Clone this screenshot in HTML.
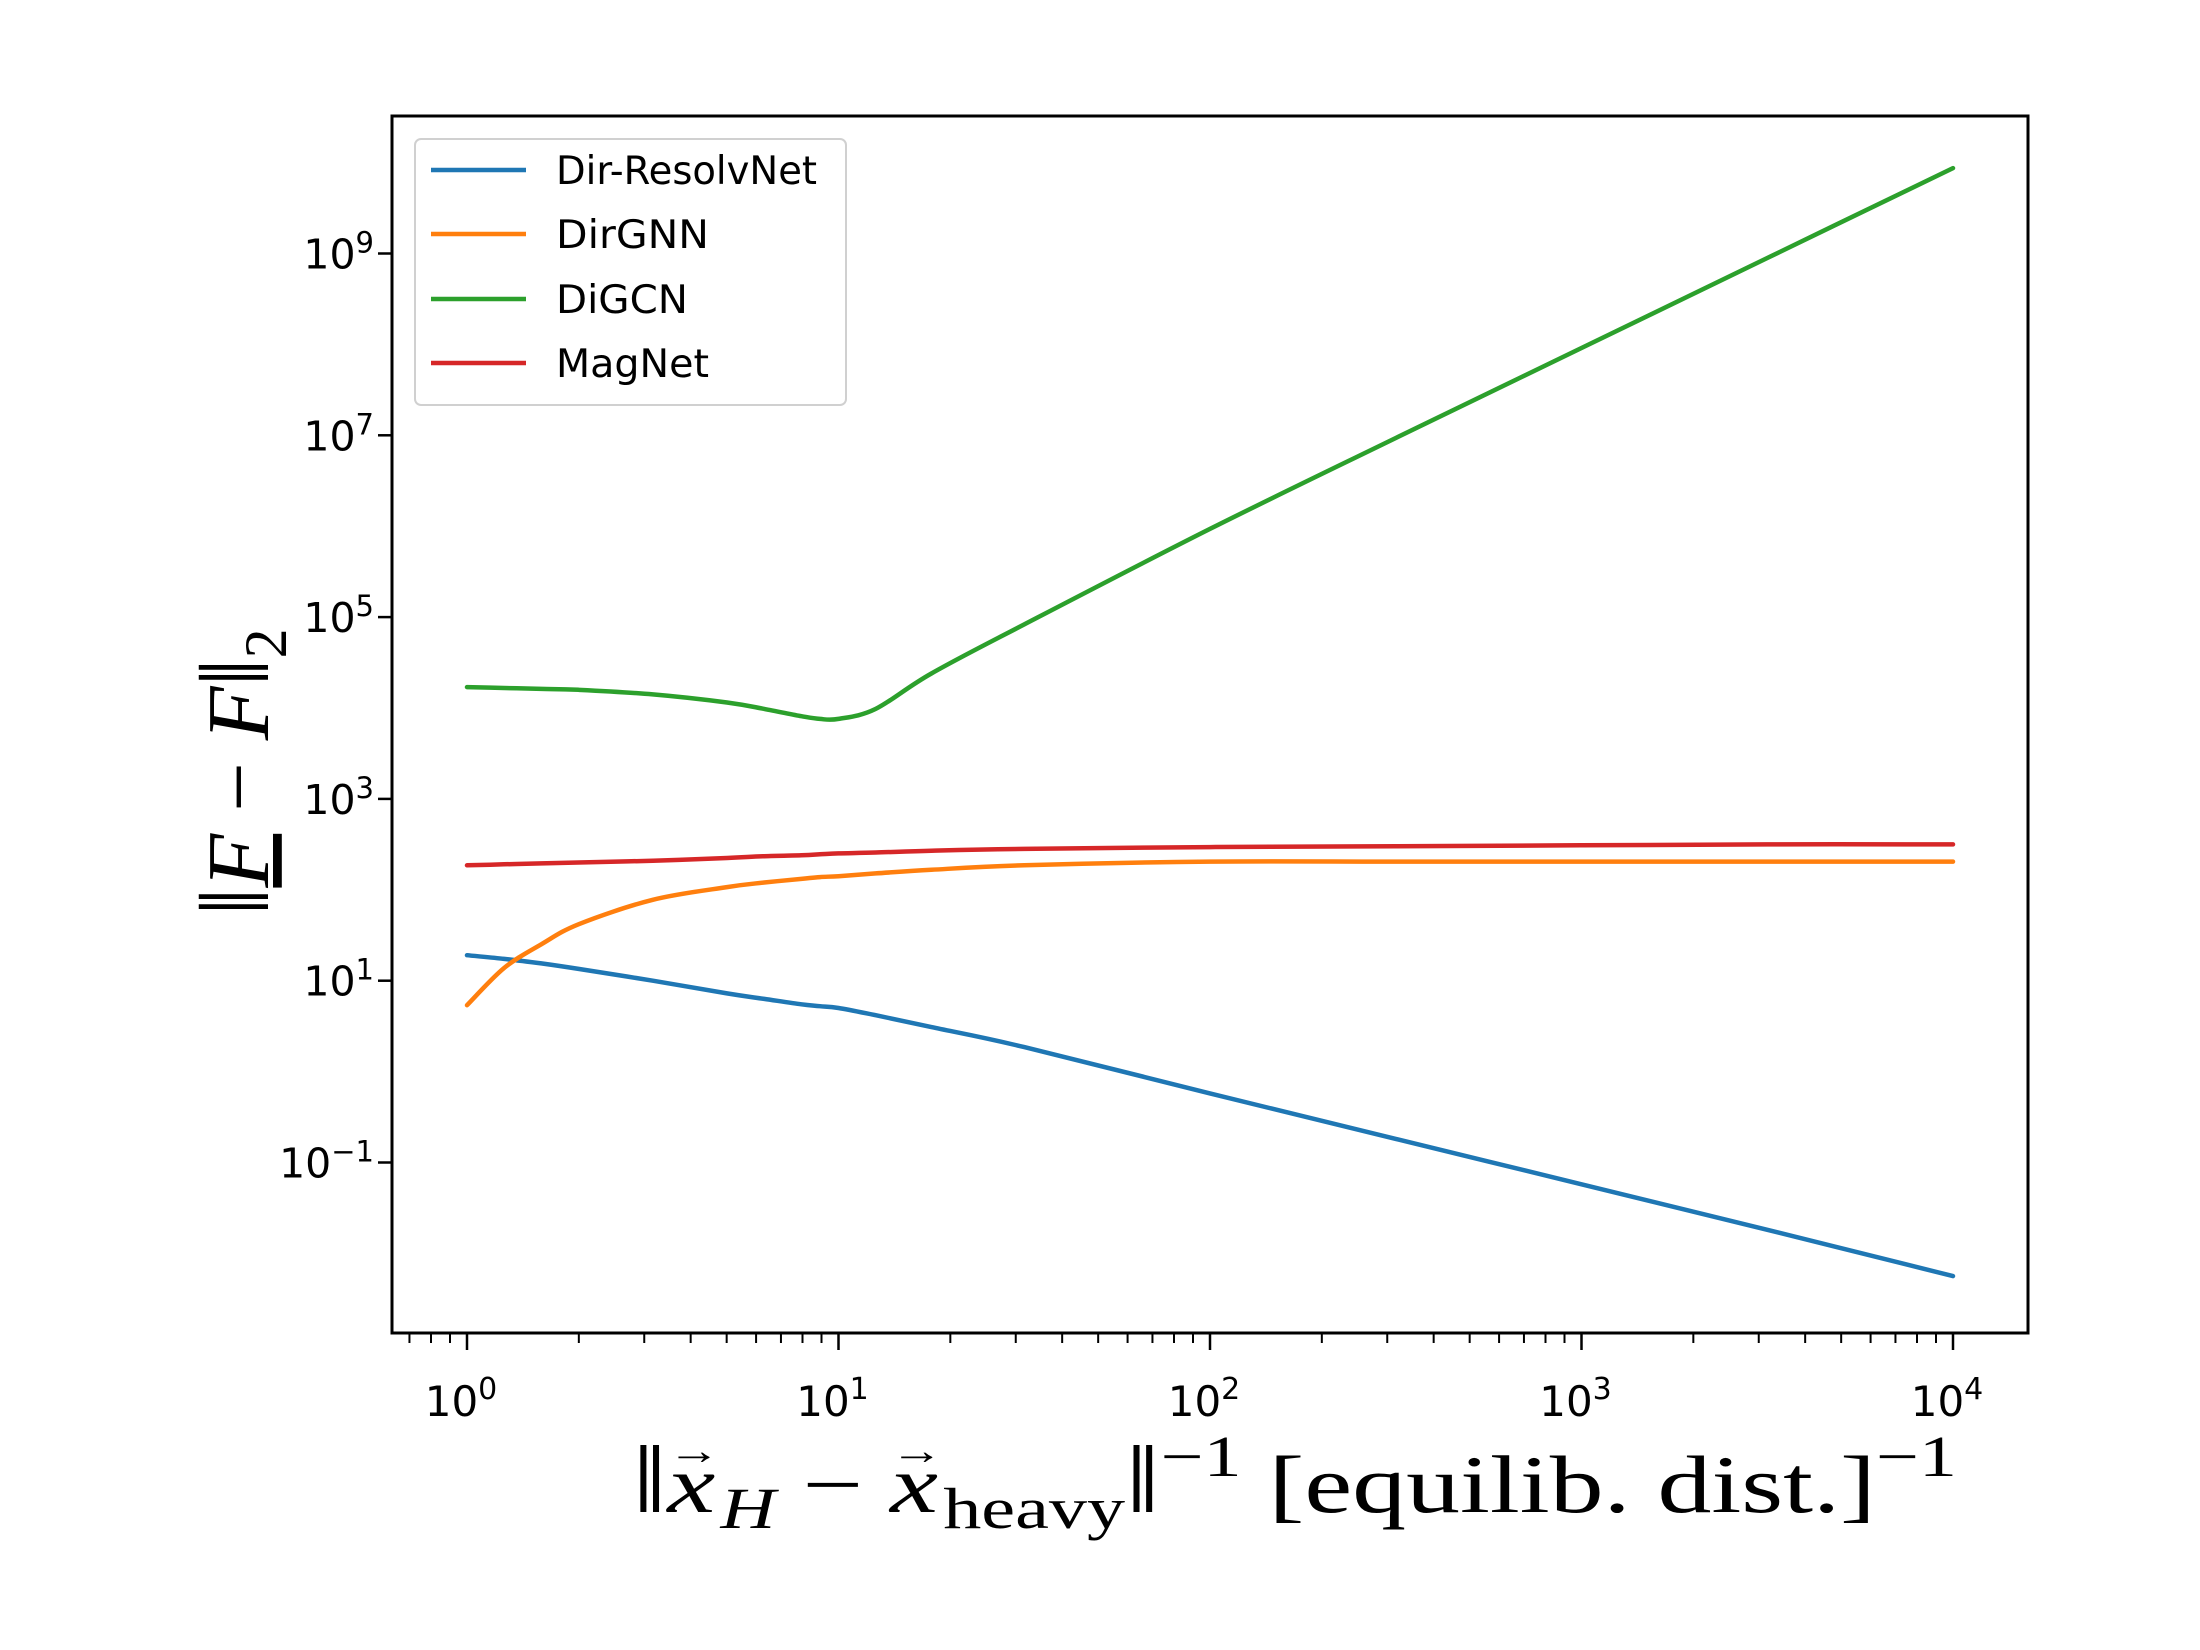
<!DOCTYPE html>
<html><head><meta charset="utf-8"><style>
html,body{margin:0;padding:0;background:#fff;}
svg{display:block;}
</style></head><body>
<svg id="chart" width="2200" height="1650" viewBox="0 0 2200 1650" xmlns="http://www.w3.org/2000/svg">
<rect width="2200" height="1650" fill="#fff"/>
<g id="plot"></g>
<g id="axes"></g>
<g id="legend"></g>
<text transform="translate(268,772) rotate(-90)" text-anchor="middle" font-family="Liberation Serif, serif" font-size="88"><tspan font-size="100">‖</tspan><tspan font-style="italic" text-decoration="underline">F</tspan><tspan> − </tspan><tspan font-style="italic">F</tspan><tspan font-size="100">‖</tspan><tspan font-size="60" dy="18">2</tspan></text>
<text x="632" y="1512" font-family="Liberation Serif, serif" font-size="82" textLength="1325" lengthAdjust="spacingAndGlyphs"><tspan font-size="96">‖</tspan><tspan font-style="italic">x</tspan><tspan font-size="40" dx="-36" dy="-48">→</tspan><tspan font-style="italic" font-size="58" dy="64">H</tspan><tspan dy="-16"> − </tspan><tspan font-style="italic">x</tspan><tspan font-size="40" dx="-36" dy="-48">→</tspan><tspan font-size="58" dy="64">heavy</tspan><tspan dy="-16" font-size="96">‖</tspan><tspan font-size="58" dy="-36">−1</tspan><tspan dy="36"> [equilib.  dist.]</tspan><tspan font-size="58" dy="-36">−1</tspan></text>
</svg>
<script>
const NS='http://www.w3.org/2000/svg';
// data (log10 values)
const xLogs=[0,0.1,0.2,0.3,0.5,0.7,0.8,0.9,0.95,1.0,1.1,1.25,1.5,2,2.5,3,3.5,4];
const blueY=[1.28,1.24,1.19,1.13,1.0,0.86,0.80,0.74,0.72,0.70,0.62,0.49,0.27,-0.24,-0.74,-1.24,-1.74,-2.25];
const orangeY=[0.73,1.14,1.40,1.62,1.89,2.03,2.08,2.12,2.14,2.15,2.18,2.22,2.27,2.31,2.31,2.31,2.31,2.31];
const greenY=[4.23,4.22,4.21,4.20,4.15,4.06,3.99,3.91,3.88,3.88,3.99,4.38,4.92,5.97,6.97,7.96,8.95,9.94];
const redY=[2.27,2.28,2.29,2.30,2.32,2.35,2.37,2.38,2.39,2.40,2.41,2.43,2.45,2.47,2.48,2.49,2.50,2.50];
const seriesNames=['Dir-ResolvNet','DirGNN','DiGCN','MagNet'];
const seriesColors=['#1f77b4','#ff7f0e','#2ca02c','#d62728'];
const seriesData=[blueY,orangeY,greenY,redY];
const xTickExps=[0,1,2,3,4];
const yTickExps=[-1,1,3,5,7,9];

const L=392,R=2028,T=116,B=1333;
const X0=467,XD=371.5, Y1=980.7, YD=90.9;
const sx=v=>X0+v*XD;
const sy=v=>Y1-(v-1)*YD;
function el(tag,attrs,parent){const e=document.createElementNS(NS,tag);for(const k in attrs)e.setAttribute(k,attrs[k]);parent.appendChild(e);return e;}
const plot=document.getElementById('plot'),axes=document.getElementById('axes'),legend=document.getElementById('legend');

function smoothPath(pts){
  let d='M'+pts[0][0].toFixed(1)+','+pts[0][1].toFixed(1);
  for(let i=0;i<pts.length-1;i++){
    const p0=pts[Math.max(0,i-1)],p1=pts[i],p2=pts[i+1],p3=pts[Math.min(pts.length-1,i+2)];
    const c1=[p1[0]+(p2[0]-p0[0])/6,p1[1]+(p2[1]-p0[1])/6];
    const c2=[p2[0]-(p3[0]-p1[0])/6,p2[1]-(p3[1]-p1[1])/6];
    d+=' C'+c1[0].toFixed(1)+','+c1[1].toFixed(1)+' '+c2[0].toFixed(1)+','+c2[1].toFixed(1)+' '+p2[0].toFixed(1)+','+p2[1].toFixed(1);
  }
  return d;
}

seriesData.forEach((ys,i)=>{
  const pts=ys.map((y,j)=>[sx(xLogs[j]),sy(y)]);
  const p=el('path',{d:smoothPath(pts),fill:'none',stroke:seriesColors[i],'stroke-width':4.5,'stroke-linejoin':'round','stroke-linecap':'round'},plot);
  
  
});

const frame=el('rect',{x:L,y:T,width:R-L,height:B-T,fill:'none',stroke:'#000','stroke-width':3},axes);



for(let e=-1;e<=4;e++){
  for(let m=1;m<10;m++){
    const v=e+Math.log10(m); const x=sx(v);
    if(x<L||x>R) continue;
    if(m===1&&e>=0){
      el('line',{x1:x,y1:B,x2:x,y2:B+17,stroke:'#000','stroke-width':2.5},axes);
    } else if(m>1){
      el('line',{x1:x,y1:B,x2:x,y2:B+10,stroke:'#000','stroke-width':2},axes);
    }
  }
}
xTickExps.forEach(e=>{
  const t=el('text',{x:sx(e)-6,y:1416,'text-anchor':'middle','font-family':'DejaVu Sans, sans-serif','font-size':42},axes);
  
  
  t.textContent='10';
  const s=el('tspan',{'font-size':30,dy:-17},t); s.textContent=String(e);
});
yTickExps.forEach(e=>{
  const y=sy(e);
  el('line',{x1:L-14,y1:y,x2:L,y2:y,stroke:'#000','stroke-width':2.5},axes);
  const t=el('text',{x:L-18,y:y+15,'text-anchor':'end','font-family':'DejaVu Sans, sans-serif','font-size':41},axes);
  
  
  t.textContent='10';
  const s=el('tspan',{'font-size':29,dy:-16},t); s.textContent=(e<0?'−':'')+Math.abs(e);
});

const lb=el('rect',{x:415,y:139,width:431,height:266,rx:6,fill:'#fff',stroke:'#ccc','stroke-width':2,opacity:0.9},legend);


const ly=[170,234,299,363];
const lw=[261,153,132,153];
seriesNames.forEach((n,i)=>{
  const g=el('g',{},legend);
  
  
  el('line',{x1:431,y1:ly[i],x2:526,y2:ly[i],stroke:seriesColors[i],'stroke-width':4.5},g);
  const t=el('text',{x:556,y:ly[i]+14,'font-family':'DejaVu Sans, sans-serif','font-size':39,textLength:lw[i],lengthAdjust:'spacingAndGlyphs'},g);
  t.textContent=n;
});
</script>
</body></html>
